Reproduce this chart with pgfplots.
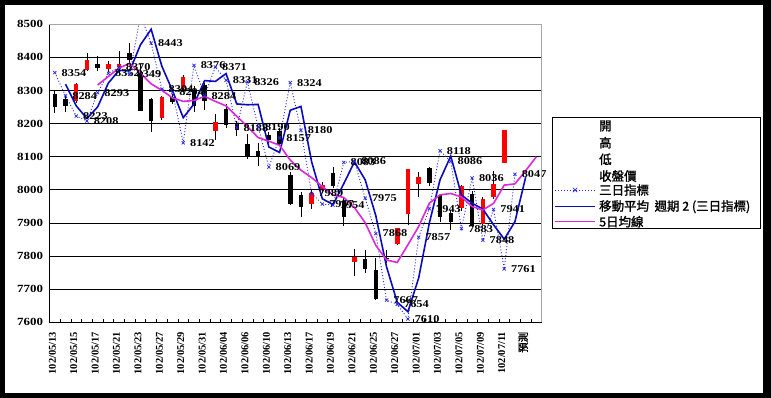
\documentclass[border=0pt]{standalone}
\usepackage{fontspec}
\setmainfont{Liberation Serif}
\newfontfamily\numfont{Liberation Serif}[FakeStretch=1.18]
\newfontfamily\cjk{Noto Sans CJK TC}[AutoFakeBold=1.5]
\usepackage{pgfplots}
\pgfplotsset{compat=1.18}
\usepackage{pgfplotstable}

\definecolor{upred}{RGB}{255,0,0}
\definecolor{idxblue}{RGB}{40,40,230}
\definecolor{mablue}{RGB}{10,10,190}
\definecolor{mapink}{RGB}{220,40,220}

\pgfplotstableread{
i O H L C
2 8270 8322 8262 8320
3 8363 8413 8358 8390
5 8366 8388 8355 8378
6 8372 8418 8350 8380
10 8218 8285 8212 8280
12 8308 8348 8298 8340
15 8180 8230 8150 8205
24 7958 8003 7943 7991
25 8000 8025 7990 8014
28 7783 7820 7740 7796
32 7838 7885 7833 7883
33 7928 8063 7895 8063
34 8018 8053 7978 8038
38 7945 8015 7935 8010
40 7898 7978 7893 7973
41 7978 8058 7973 8016
42 8083 8180 8083 8180
}\upcandles

\pgfplotstableread{
i O H L C
0 8288 8298 8233 8250
1 8273 8285 8236 8253
4 8378 8403 8360 8370
7 8413 8443 8380 8393
8 8355 8380 8238 8240
9 8273 8278 8175 8210
11 8280 8290 8260 8266
13 8300 8315 8235 8255
14 8315 8323 8240 8270
16 8243 8258 8188 8198
17 8200 8208 8163 8183
18 8138 8168 8093 8100
19 8118 8143 8073 8103
20 8165 8175 8140 8150
21 8178 8188 8133 8138
22 8043 8053 7953 7958
23 7983 7993 7918 7948
26 8050 8070 8005 8012
27 7965 7975 7890 7920
29 7790 7818 7748 7763
30 7758 7793 7668 7670
31 7795 7818 7780 7792
35 8066 8070 8013 8023
36 7983 7988 7903 7918
37 7928 7938 7878 7903
39 7988 7998 7888 7893
}\downcandles

% three-day index (all points, incl. the one above the axis top)
\pgfplotstableread{
i v
0 8354
1 8284
2 8223
3 8208
4 8293
5 8352
6 8370
7 8349
8 8527
9 8443
10 8304
11 8294
12 8142
13 8376
14 8284
15 8371
16 8331
17 8188
18 8326
19 8190
20 8069
21 8157
22 8324
23 8180
24 7989
25 7957
26 7954
27 8083
28 8086
29 7975
30 7868
31 7667
32 7654
33 7610
34 7857
35 7943
36 8118
37 8086
38 7883
39 8036
40 7848
41 7941
42 7761
43 8047
}\idx

% labelled points (the clipped one is left out)
\pgfplotstableread{
i v
0 8354
1 8284
2 8223
3 8208
4 8293
5 8352
6 8370
7 8349
9 8443
10 8304
11 8294
12 8142
13 8376
14 8284
15 8371
16 8331
17 8188
18 8326
19 8190
20 8069
21 8157
22 8324
23 8180
24 7989
25 7957
26 7954
27 8083
28 8086
29 7975
30 7868
31 7667
32 7654
33 7610
34 7857
35 7943
36 8118
37 8086
38 7883
39 8036
40 7848
41 7941
42 7761
43 8047
}\idxlab

\pgfplotstableread{
i v
1 8319
2 8253.5
3 8215.5
4 8250.5
5 8322.5
6 8361
7 8359.5
8 8438
9 8485
10 8373.5
11 8299
12 8218
13 8259
14 8330
15 8327.5
16 8351
17 8259.5
18 8257
19 8258
20 8129.5
21 8113
22 8240.5
23 8252
24 8084.5
25 7973
26 7955.5
27 8018.5
28 8084.5
29 8030.5
30 7921.5
31 7767.5
32 7660.5
33 7632
34 7733.5
35 7900
36 8030.5
37 8102
38 7984.5
39 7959.5
40 7942
41 7894.5
42 7851
43 7904
44 8038
}\mavg

\pgfplotstableread{
i v
4 8316.8
5 8342.4
6 8367.8
7 8382.2
8 8352.2
9 8320.2
10 8300.6
11 8277.8
12 8267.2
13 8270.2
14 8282.2
15 8267.2
16 8253.6
17 8222.2
18 8191.2
19 8157.8
20 8146.8
21 8134.8
22 8089.8
23 8059.4
24 8037
25 8009.8
26 7984.6
27 7977
28 7946.6
29 7901
30 7832.2
31 7788.2
32 7780.8
33 7834.2
34 7889.2
35 7959.8
36 7985
37 7989
38 7978.4
39 7949.4
40 7939.4
41 7959
42 8014.4
43 8018
44 8058
45 8100
}\five

\begin{document}
\begin{tikzpicture}
\fill[black] (-49.5bp,-75.7bp) rectangle (721.5bp,322.3bp);
\fill[white] (-44.5bp,-70.7bp) rectangle (713.5bp,317.3bp);
\begin{axis}[
  at={(0bp,0bp)}, anchor=south west,
  scale only axis, width=492.2bp, height=298bp,
  xmin=-0.5, xmax=45.5, ymin=7600, ymax=8500,
  ytick={7600,7700,...,8500},
  xtick={0,2,...,44},
  xticklabels={102/05/13,102/05/15,102/05/17,102/05/21,102/05/23,102/05/27,102/05/29,102/05/31,102/06/04,102/06/06,102/06/10,102/06/13,102/06/17,102/06/19,102/06/21,102/06/25,102/06/27,102/07/01,102/07/03,102/07/05,102/07/09,102/07/11,{\cjk 預測}},
  minor xtick={-0.5,0.5,...,45.5},
  major tick length=0pt,
  minor tick length=3bp,
  tick align=inside,
  xtick pos=bottom, ytick pos=left,
  scaled y ticks=false,
  ymajorgrids,
  major grid style={black, line width=0.8bp},
  axis line style={black, line width=0.8bp},
  minor x tick style={black, line width=0.6bp},
  yticklabel style={font=\numfont\bfseries\fontsize{11}{12}\selectfont, /pgf/number format/1000 sep={}, /pgf/number format/assume math mode=true, xshift=-3bp},
  xticklabel style={font=\bfseries\fontsize{10.5}{12}\selectfont, rotate=90, anchor=east, xshift=-6bp, yshift=2.5bp},
  after end axis/.code={\draw[gray!70, line width=0.8bp] (rel axis cs:0,1) -- (rel axis cs:1,1) -- (rel axis cs:1,0);},
]
% wicks
\addplot[only marks, mark=text, text mark={}, error bars/.cd, y dir=both, y explicit, error mark=none,
  error bar style={black, line width=0.8bp}]
  table[x=i, y expr={(\thisrow{H}+\thisrow{L})/2}, y error expr={(\thisrow{H}-\thisrow{L})/2}] {\upcandles};
\addplot[only marks, mark=text, text mark={}, error bars/.cd, y dir=both, y explicit, error mark=none,
  error bar style={black, line width=0.8bp}]
  table[x=i, y expr={(\thisrow{H}+\thisrow{L})/2}, y error expr={(\thisrow{H}-\thisrow{L})/2}] {\downcandles};
% bodies
\addplot[only marks, mark=text, text mark={}, error bars/.cd, y dir=both, y explicit, error mark=none,
  error bar style={upred, line width=4.5bp}]
  table[x=i, y expr={(\thisrow{O}+\thisrow{C})/2}, y error expr={abs(\thisrow{C}-\thisrow{O})/2+0.8}] {\upcandles};
\addplot[only marks, mark=text, text mark={}, error bars/.cd, y dir=both, y explicit, error mark=none,
  error bar style={black, line width=4.5bp}]
  table[x=i, y expr={(\thisrow{O}+\thisrow{C})/2}, y error expr={abs(\thisrow{C}-\thisrow{O})/2+0.8}] {\downcandles};
% three-day index dotted line
\addplot[idxblue, line width=0.9bp, dash pattern=on 1bp off 2bp, no marks] table[x=i, y=v] {\idx};
% moving average period 2
\addplot[mablue, line width=1.6bp, no marks] table[x=i, y=v] {\mavg};
% 5-day average
\addplot[mapink, line width=1.6bp, no marks] table[x=i, y=v] {\five};
% index markers with labels
\addplot[only marks, mark=x, mark size=2.2bp, idxblue, mark options={line width=0.7bp},
  point meta=explicit symbolic, nodes near coords,
  every node near coord/.style={anchor=west, xshift=6bp, black, font=\numfont\bfseries\fontsize{10.5}{12}\selectfont, inner sep=0.5bp}]
  table[x=i, y=v, meta=v] {\idxlab};
\end{axis}
% legend box
\draw[black, line width=0.8bp, fill=white] (503.2bp,94bp) rectangle (711.2bp,205bp);
\begin{scope}[every node/.style={anchor=west, inner sep=0pt, font=\cjk\bfseries\fontsize{12.5}{13}\selectfont}]
\node at (549.5bp,196.3bp) {開};
\node at (549.5bp,179.6bp) {高};
\node at (549.5bp,163bp) {低};
\node at (549.5bp,146.3bp) {收盤價};
\node at (549.5bp,132.3bp) {三日指標};
\node at (549.5bp,115.6bp) {移動平均\ \ 週期 2 (三日指標)};
\node at (549.5bp,100.6bp) {5日均線};
\end{scope}
\draw[idxblue, line width=0.9bp, dash pattern=on 1bp off 2bp] (505.5bp,132.3bp) -- (545.5bp,132.3bp);
\draw[idxblue, line width=0.7bp] (523.3bp,130.1bp) -- (527.7bp,134.5bp) (523.3bp,134.5bp) -- (527.7bp,130.1bp);
\draw[mablue, line width=1.6bp] (505.5bp,115.6bp) -- (545.5bp,115.6bp);
\draw[mapink, line width=1.6bp] (505.5bp,100.6bp) -- (545.5bp,100.6bp);
\end{tikzpicture}
\end{document}
